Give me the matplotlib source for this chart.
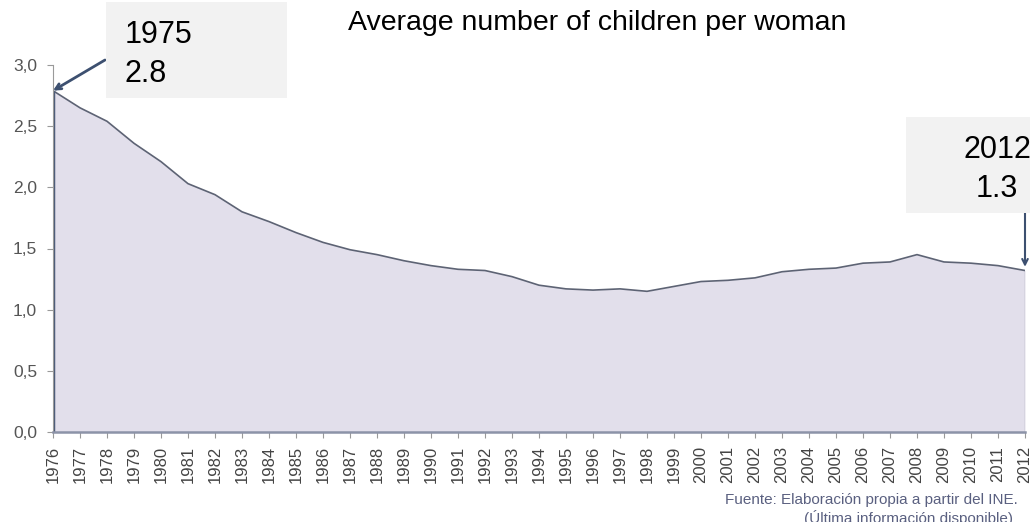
import matplotlib
matplotlib.use("Agg")
import matplotlib.pyplot as plt

plt.rcParams['font.family'] = ['Liberation Sans', 'DejaVu Sans']

years = list(range(1976, 2013))
values = [2.79, 2.65, 2.54, 2.36, 2.21, 2.03, 1.94, 1.80, 1.72, 1.63,
          1.55, 1.49, 1.45, 1.40, 1.36, 1.33, 1.32, 1.27, 1.20, 1.17,
          1.16, 1.17, 1.15, 1.19, 1.23, 1.24, 1.26, 1.31, 1.33, 1.34,
          1.38, 1.39, 1.45, 1.39, 1.38, 1.36, 1.32]
yticks = [0.0, 0.5, 1.0, 1.5, 2.0, 2.5, 3.0]
ytick_labels = ["0,0", "0,5", "1,0", "1,5", "2,0", "2,5", "3,0"]

W, H = 1030, 522
fig = plt.figure(figsize=(W / 100, H / 100), dpi=100)
ax = fig.add_axes([53 / W, 1 - 432 / H, (1025 - 53) / W, (432 - 65) / H])

ax.fill_between(years, values, 0, color="#e2dfeb", lw=0)
ax.plot(years, values, color="#5d6374", lw=1.2)
ax.plot([years[0], years[0]], [0, values[0]], color="#4a5a78", lw=2.5, solid_capstyle="butt")
ax.plot([years[-1], years[-1]], [0, values[-1]], color="#a9a9b5", lw=1)

ax.set_xlim(years[0], years[-1])
ax.set_ylim(0, 3.0)
ax.set_yticks(yticks)
ax.set_yticklabels(ytick_labels, fontsize=12.5, color="#555555")
ax.set_xticks(years)
ax.set_xticklabels([str(y) for y in years], rotation=90, fontsize=12, color="#444444")
for s in ["top", "right"]:
    ax.spines[s].set_visible(False)
ax.spines["left"].set_color("#9a9a9a")
ax.spines["bottom"].set_color("#8c93a8")
ax.spines["bottom"].set_linewidth(1.8)
ax.tick_params(axis="y", length=4.5, color="#999999", pad=7)
ax.tick_params(axis="x", length=4, color="#999999", pad=6)

fig.text(348 / W, 1 - 30 / H, "Average number of children per woman", fontsize=20.5,
         color="black", va="baseline", ha="left")

# annotation box 1975
box1 = plt.Rectangle((106 / W, 1 - 98 / H), 181 / W, 96 / H, transform=fig.transFigure,
                     facecolor="#f2f2f2", edgecolor="none", clip_on=False)
fig.add_artist(box1)
fig.text(125 / W, 1 - 43 / H, "1975", fontsize=22, va="baseline", ha="left")
fig.text(125 / W, 1 - 82 / H, "2.8", fontsize=22, va="baseline", ha="left")
ax.annotate("", xy=(years[0], values[0]), xycoords="data",
            xytext=(105 / W, 1 - 60 / H), textcoords="figure fraction",
            arrowprops=dict(arrowstyle="->", color="#3d5070", lw=2,
                            shrinkA=0, shrinkB=0))

# annotation box 2012
box2 = plt.Rectangle((906 / W, 1 - 213 / H), 124 / W, 96 / H, transform=fig.transFigure,
                     facecolor="#f2f2f2", edgecolor="none", clip_on=False)
fig.add_artist(box2)
fig.text(997 / W, 1 - 158 / H, "2012", fontsize=22, va="baseline", ha="center")
fig.text(997 / W, 1 - 197 / H, "1.3", fontsize=22, va="baseline", ha="center")
ax.annotate("", xy=(years[-1], values[-1] + 0.03), xycoords="data",
            xytext=(1025 / W, 1 - 213 / H), textcoords="figure fraction",
            arrowprops=dict(arrowstyle="->", color="#3d5070", lw=1.5,
                            shrinkA=0, shrinkB=0))

fig.text(1018 / W, 1 - 500 / H, "Fuente: Elaboración propia a partir del INE.", fontsize=11,
         color="#5a6080", ha="right", va="center")
fig.text(1013 / W, 1 - 518 / H, "(Última información disponible)", fontsize=11,
         color="#5a6080", ha="right", va="center")

fig.savefig("out.png", dpi=100)
